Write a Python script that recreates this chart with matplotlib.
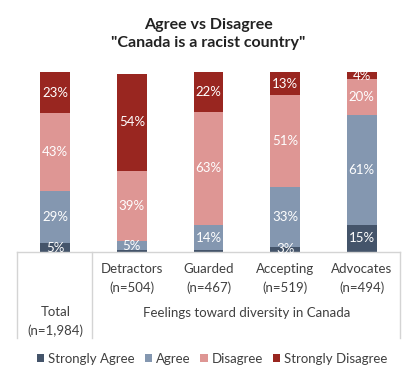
import matplotlib
matplotlib.use("Agg")
import matplotlib.pyplot as plt
import numpy as np

plt.rcParams['font.family'] = ['Lato', 'DejaVu Sans']

groups = ['Total\n(n=1,984)', 'Detractors\n(n=504)', 'Guarded\n(n=467)',
          'Accepting\n(n=519)', 'Advocates\n(n=494)']
series = ['Strongly Agree', 'Agree', 'Disagree', 'Strongly Disagree']
strongly_agree = [5, 1, 1, 3, 15]
agree = [29, 5, 14, 33, 61]
disagree = [43, 39, 63, 51, 20]
strongly_disagree = [23, 54, 22, 13, 4]
colors = ['#44546A', '#8497B0', '#DE9694', '#992620']

fig = plt.figure(figsize=(4.16, 3.82), dpi=100)
ax = fig.add_axes([17 / 416, 130 / 382, 383 / 416, 180 / 382])

x = np.arange(len(groups))
bottom = np.zeros(len(groups))
for name, vals, c in zip(series, [strongly_agree, agree, disagree, strongly_disagree], colors):
    vals = np.array(vals, dtype=float)
    ax.bar(x, vals, 0.39, bottom=bottom, color=c, label=name)
    for xi, b, v in zip(x, bottom, vals):
        if v >= 3:
            ax.text(xi, b + v / 2, f'{int(v)}%', ha='center', va='center',
                    color='white', fontsize=9.5)
    bottom += vals

ax.set_xlim(-0.5, 4.5)
ax.set_ylim(0, 100)
ax.axis('off')

# table below the bars
line_kw = dict(color='#D4D4D4', lw=1, clip_on=False, transform=ax.transAxes)
ax.plot([0, 1], [0, 0], **line_kw)
div = (92 - 17) / 383
for xf in [0, div, 1]:
    ax.plot([xf, xf], [0, -0.478], **line_kw)

trans = ax.get_xaxis_transform()
for xi, g in zip(x[1:], groups[1:]):
    ax.text(xi, -0.147, g, transform=trans, ha='center', va='center',
            fontsize=9.5, color='#404040', linespacing=1.55)
ax.text(0, -0.386, groups[0], transform=trans, ha='center', va='center',
        fontsize=9.5, color='#404040', linespacing=1.55)
ax.text(2.5, -0.339, 'Feelings toward diversity in Canada', transform=trans,
        ha='center', va='center', fontsize=9.5, color='#404040')

fig.text(0.5, 1 - 34 / 382, 'Agree vs Disagree\n"Canada is a racist country"',
         ha='center', va='center', fontsize=11.5, fontweight='bold',
         color='#222222', linespacing=1.3)

fig.legend(loc='center', bbox_to_anchor=(0.51, (382 - 359) / 382), ncol=4,
           frameon=False, fontsize=9.5, handlelength=0.55, handleheight=0.55,
           handletextpad=0.3, columnspacing=0.75, labelcolor='#404040')

fig.savefig('out.png', dpi=100)
